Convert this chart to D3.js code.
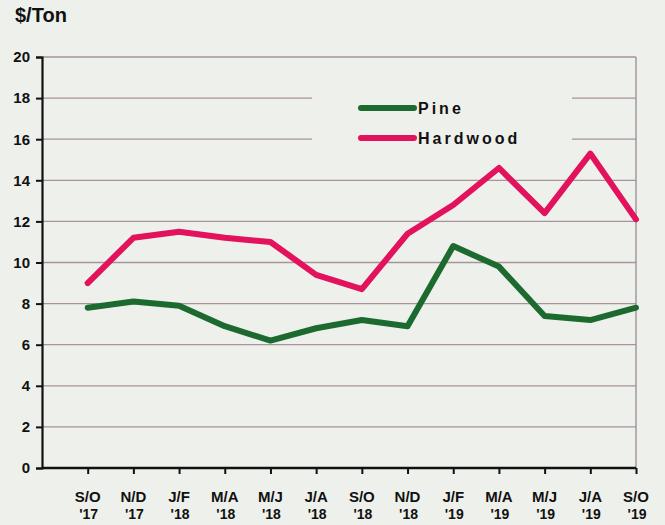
<!DOCTYPE html>
<html><head><meta charset="utf-8">
<script src="https://cdn.jsdelivr.net/npm/d3@7/dist/d3.min.js"></script>
<style>
html,body{margin:0;padding:0;background:#eef0eb;}
svg{display:block;font-family:"Liberation Sans",Arial,sans-serif;}
</style></head>
<body><svg id="c" width="665" height="525"></svg>
<script>
const periods = ["S/O","N/D","J/F","M/A","M/J","J/A","S/O","N/D","J/F","M/A","M/J","J/A","S/O"];
const years   = ["'17","'17","'18","'18","'18","'18","'18","'18","'19","'19","'19","'19","'19"];
const pine     = [7.8, 8.1, 7.9, 6.9, 6.2, 6.8, 7.2, 6.9, 10.8, 9.8, 7.4, 7.2, 7.8];
const hardwood = [9.0, 11.2, 11.5, 11.2, 11.0, 9.4, 8.7, 11.4, 12.8, 14.6, 12.4, 15.3, 12.1];
const yTicks = [0,2,4,6,8,10,12,14,16,18,20];
const seriesNames = ["Pine","Hardwood"];
const seriesColors = ["#1d6a31","#e2135c"];

const svg = d3.select("#c");
const mLeft = 42, mRight = 636, mTop = 57, mBottom = 468;
const x = d3.scaleLinear().domain([-1, periods.length - 1]).range([mLeft, mRight]);
const y = d3.scaleLinear().domain([0, 20]).range([mBottom, mTop]);

// gridlines
svg.append("g").selectAll("line").data(yTicks.filter(d => d > 0)).join("line")
  .attr("x1", mLeft).attr("x2", mRight)
  .attr("y1", d => y(d)).attr("y2", d => y(d))
  .attr("stroke", "#a8929c").attr("stroke-width", 1.3);
// right border
svg.append("line").attr("x1", mRight).attr("x2", mRight).attr("y1", mTop).attr("y2", mBottom)
  .attr("stroke", "#9a8a92").attr("stroke-width", 1.3);

// legend background covering gridlines
svg.append("rect").attr("x", 312).attr("y", 88).attr("width", 260).attr("height", 64)
  .attr("fill", "#eef0eb");

// y axis
const yAxis = d3.axisLeft(y).tickValues(yTicks).tickSize(6).tickPadding(6).tickFormat(d3.format("d"));
const gy = svg.append("g").attr("transform", `translate(${mLeft},0)`).call(yAxis);
gy.select(".domain").attr("stroke", "#111").attr("stroke-width", 2.2);
gy.selectAll(".tick line").attr("stroke", "#111").attr("stroke-width", 2);
gy.selectAll(".tick text").attr("font-size", 15).attr("font-weight", "bold").attr("fill", "#111")
  .attr("font-family", "'Liberation Sans',Arial,sans-serif");

// x axis
const xAxis = d3.axisBottom(x).tickValues(d3.range(periods.length)).tickSize(6).tickFormat("");
const gx = svg.append("g").attr("transform", `translate(0,${mBottom})`).call(xAxis);
gx.select(".domain").attr("stroke", "#111").attr("stroke-width", 2.5).attr("d", `M${mLeft},0H${mRight}`);
gx.selectAll(".tick line").attr("stroke", "#111").attr("stroke-width", 2);

svg.append("g").selectAll("text").data(periods).join("text")
  .attr("x", (d, i) => x(i)).attr("y", 502)
  .attr("text-anchor", "middle").attr("font-size", 15).attr("font-weight", "bold")
  .attr("fill", "#111").text(d => d);
svg.append("g").selectAll("text").data(years).join("text")
  .attr("x", (d, i) => x(i) + 1).attr("y", 519)
  .attr("text-anchor", "middle").attr("font-size", 14).attr("font-weight", "bold")
  .attr("fill", "#111").text(d => d);

// y label
svg.append("text").attr("x", 15).attr("y", 22).attr("font-size", 20).attr("font-weight", "bold")
  .attr("fill", "#111").text("$/Ton");

// lines
const line = d3.line().x((d, i) => x(i)).y(d => y(d));
[pine, hardwood].forEach((s, k) => {
  svg.append("path").datum(s).attr("d", line).attr("fill", "none")
    .attr("stroke", seriesColors[k]).attr("stroke-width", 6)
    .attr("stroke-linejoin", "round").attr("stroke-linecap", "round");
});

// legend
const lg = svg.append("g");
seriesNames.forEach((n, k) => {
  const ly = 108 + k * 30;
  lg.append("line").attr("x1", 361).attr("x2", 414).attr("y1", ly).attr("y2", ly)
    .attr("stroke", seriesColors[k]).attr("stroke-width", 6).attr("stroke-linecap", "round");
  lg.append("text").attr("x", 418).attr("y", ly + 6).attr("font-size", 16)
    .attr("font-weight", "bold").attr("letter-spacing", "3px").attr("fill", "#111").text(n);
});
</script></body></html>
